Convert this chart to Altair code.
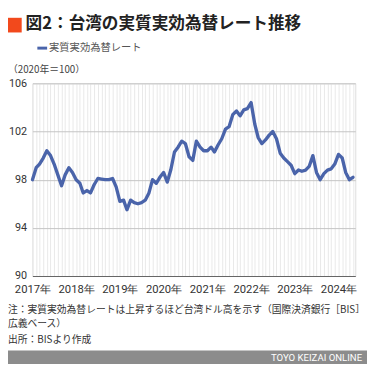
import altair as alt
import pandas as pd

# Monthly real effective exchange rate, Jan 2017 - May 2024 (2020 = 100)
values = [
    98.0, 99.0, 99.3, 99.8, 100.4, 100.0, 99.3, 98.4, 97.5, 98.4, 99.0, 98.6,   # 2017
    98.0, 97.7, 96.9, 97.1, 96.9, 97.6, 98.1, 98.05, 98.0, 98.0, 98.1, 97.4,    # 2018
    96.2, 96.3, 95.5, 96.3, 96.1, 96.0, 96.1, 96.3, 96.9, 98.0, 97.7, 98.2,     # 2019
    98.6, 97.8, 98.8, 100.3, 100.7, 101.2, 101.0, 99.9, 99.6, 101.2, 100.7, 100.4,  # 2020
    100.4, 100.7, 100.3, 100.9, 101.4, 102.2, 102.4, 103.4, 103.7, 103.3, 103.8, 103.9,  # 2021
    104.4, 102.6, 101.5, 101.0, 101.3, 101.7, 102.0, 101.4, 100.2, 99.8, 99.5, 99.2,  # 2022
    98.5, 98.8, 98.7, 98.8, 99.1, 100.0, 98.6, 98.0, 98.5, 98.8, 98.9, 99.3,    # 2023
    100.1, 99.8, 98.6, 98.0, 98.2,                                               # 2024
]
dates = pd.date_range("2017-01-01", periods=len(values), freq="MS")
df = pd.DataFrame({"date": dates, "value": values})

y_ticks = [90, 94, 98, 102, 106]
title_text = "図2：台湾の実質実効為替レート推移"
legend_text = "実質実効為替レート"
unit_text = "（2020年＝100）"
notes = [
    "注：実質実効為替レートは上昇するほど台湾ドル高を示す（国際決済銀行［BIS］",
    "広義ベース）",
    "出所：BISより作成",
]
footer_text = "TOYO KEIZAI ONLINE"

LINE = "#4a64aa"
JP = "Noto Sans CJK JP"

base = alt.Chart(df)

line = base.mark_line(color=LINE, strokeWidth=3.4, strokeJoin="round", strokeCap="round").encode(
    x=alt.X(
        "date:T",
        title=None,
        scale=alt.Scale(domain=[alt.DateTime(year=2017, month=1, date=1),
                                alt.DateTime(year=2024, month=5, date=20)]),
        axis=alt.Axis(
            tickCount={"interval": "month", "step": 1},
            labelExpr="month(datum.value) == 0 ? timeFormat(datum.value, '%Y年') : ''",
            labelOverlap=False,
            labelFlush=False,
            ticks=False,
            grid=True,
            gridColor="#e8e8e8",
            gridWidth=1,
            domainColor="#666666",
            domainWidth=1.2,
            labelFont="Roboto",
            labelFontSize=11.5,
            labelColor="#333333",
            labelPadding=8,
        ),
    ),
    y=alt.Y(
        "value:Q",
        title=None,
        scale=alt.Scale(domain=[90, 106], nice=False, zero=False),
        axis=alt.Axis(
            values=y_ticks,
            ticks=False,
            domain=False,
            grid=True,
            gridColor="#c4c4c4",
            gridWidth=1,
            labelFont="Roboto",
            labelFontSize=11,
            labelColor="#333333",
            labelPadding=6,
        ),
    ),
)

one = pd.DataFrame({"k": [0]})

def txt(text, x, y, size, color="#333333", weight="normal", align="left", font=JP):
    return alt.Chart(one).mark_text(
        text=text, align=align, baseline="middle", font=font,
        fontSize=size, fontWeight=weight, color=color,
    ).encode(x=alt.value(x), y=alt.value(y))

square = alt.Chart(one).mark_rect(color="#f2491c").encode(
    x=alt.value(-25), x2=alt.value(-11), y=alt.value(-67), y2=alt.value(-52)
)
title = txt(title_text, -7, -61, 17, color="#222222", weight="bold")
legend_line = alt.Chart(one).mark_rule(color=LINE, strokeWidth=3).encode(
    x=alt.value(5), x2=alt.value(15), y=alt.value(-36)
)
legend_label = txt(legend_text, 17, -36, 10.5, color="#555555")
unit = txt(unit_text, -25, -14, 10, color="#444444")
note_layers = [
    txt(notes[0], -25, 232, 10, color="#333333"),
    txt(notes[1], -25, 246, 10, color="#333333"),
    txt(notes[2], -25, 262, 10, color="#333333"),
]
footer = alt.Chart(one).mark_rect(color="#8c8c8c").encode(
    x=alt.value(-25), x2=alt.value(342), y=alt.value(273), y2=alt.value(287)
)
footer_label = txt(footer_text, 337, 280.5, 9.8, color="#ffffff", align="right", font="Roboto")

chart = alt.layer(
    line, square, title, legend_line, legend_label, unit, *note_layers, footer, footer_label
).properties(
    width=330,
    height=197,
    autosize=alt.AutoSizeParams(type="none"),
    padding={"left": 25, "top": 73, "right": 12, "bottom": 90},
).configure_view(stroke=None).configure(background="white")

chart.save("out.html", embed_options={"renderer": "svg", "actions": False})
